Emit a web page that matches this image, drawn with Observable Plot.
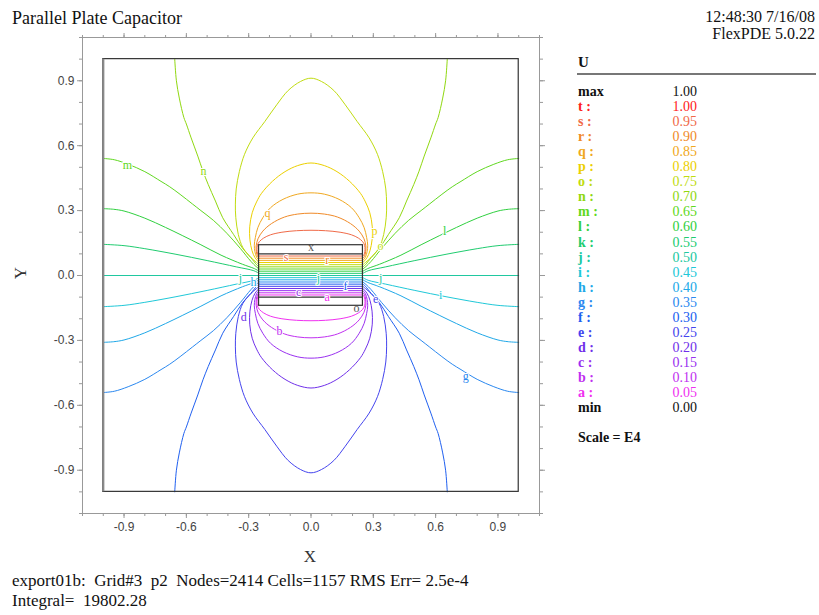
<!DOCTYPE html>
<html><head><meta charset="utf-8">
<script src="https://cdn.jsdelivr.net/npm/d3@7"></script>
<script src="https://cdn.jsdelivr.net/npm/@observablehq/plot@0.6"></script>
<style>body{margin:0;background:#fff}#chart{position:relative;width:819px;height:615px}</style>
</head><body><div id="chart"></div>
<script>
// ---- levels (legend) ----
const levelNames  = ["a","b","c","d","e","f","g","h","i","j","k","l","m","n","o","p","q","r","s","t"];
const levelValues = [0.05,0.10,0.15,0.20,0.25,0.30,0.35,0.40,0.45,0.50,0.55,0.60,0.65,0.70,0.75,0.80,0.85,0.90,0.95,1.00];
const levelColors = ["#f030f0","#c030f0","#9a30f0","#7030ea","#4444ee","#2060f0","#2a88f0","#20a8e8","#20c8d8","#20c8a0",
                     "#20cc70","#30d040","#60d820","#90d810","#c0dc10","#ecd000","#f0a820","#f08a28","#f06a48","#ff2020"];
const legendMax = "1.00", legendMin = "0.00";

// ---- geometry ----
const plateX = [-0.25, 0.25];
const plateOuterY = 0.14, plateInnerY = 0.10;
const innerDomain = [-1, 1];
// straight contour segments between the plates (levels a..s)
const gapY = [-0.09,-0.08,-0.07,-0.06,-0.05,-0.04,-0.03,-0.02,-0.01,0.00,0.01,0.02,0.03,0.04,0.05,0.06,0.07,0.08,0.09];

// ---- contour traces, upper-right quadrant, from the plate edge outward ----
const contourJ = [[-1,0],[1,0]];
const contourK = [[0.25,0.01],[0.275,0.022],[0.36,0.04],[0.5,0.069],[0.65,0.098],[0.8,0.124],[0.9,0.138],[1.0,0.144]];
const contourL = [[0.25,0.02],[0.273,0.032],[0.33,0.052],[0.433,0.094],[0.53,0.142],[0.62,0.185],[0.7,0.222],[0.8,0.265],[0.9,0.298],[0.95,0.306],[1.0,0.309]];
const contourM = [[0.25,0.03],[0.265,0.042],[0.289,0.065],[0.34,0.125],[0.405,0.195],[0.47,0.255],[0.53,0.3],[0.57,0.33],[0.63,0.375],[0.68,0.41],[0.722,0.435],[0.8,0.48],[0.88,0.514],[0.947,0.535],[1.0,0.541]];
const contourN = [[0.25,0.04],[0.262,0.05],[0.29,0.083],[0.33,0.127],[0.373,0.19],[0.425,0.267],[0.46,0.344],[0.495,0.421],[0.52,0.482],[0.545,0.552],[0.577,0.636],[0.6,0.7],[0.612,0.73],[0.634,0.82],[0.648,0.9],[0.656,1.0]];
const contourO = [[0.25,0.05],[0.262,0.06],[0.289,0.083],[0.328,0.129],[0.35,0.19],[0.362,0.267],[0.364,0.33],[0.36,0.4],[0.345,0.48],[0.32,0.56],[0.28,0.636],[0.222,0.712],[0.165,0.789],[0.11,0.855],[0.05,0.897],[0,0.912]];
const contourP = [[0.25,0.06],[0.27,0.083],[0.284,0.115],[0.294,0.165],[0.295,0.225],[0.283,0.29],[0.262,0.34],[0.238,0.38],[0.185,0.436],[0.125,0.48],[0.064,0.508],[0,0.52]];
const contourQ = [[0.25,0.07],[0.262,0.085],[0.27,0.11],[0.273,0.14],[0.268,0.175],[0.256,0.221],[0.232,0.267],[0.195,0.313],[0.135,0.352],[0.064,0.376],[0,0.382]];
const contourR = [[0.25,0.08],[0.258,0.09],[0.263,0.11],[0.264,0.137],[0.255,0.17],[0.232,0.205],[0.19,0.24],[0.128,0.27],[0.064,0.284],[0,0.288]];
const contourS = [[0.25,0.09],[0.257,0.1],[0.26,0.12],[0.258,0.14],[0.248,0.157],[0.228,0.173],[0.195,0.188],[0.14,0.2],[0.07,0.207],[0,0.209]];

// ---- contour labels ----
const labelText = ["m","n","q","p","o","l","s","r","j","j","j","h","f","c","a","e","d","b","i","g"];
const labelX = [-0.884,-0.518,-0.21,0.306,0.335,0.643,-0.12,0.078,-0.34,0.036,0.335,-0.277,0.166,-0.06,0.078,0.311,-0.324,-0.152,0.624,0.745];
const labelY = [0.512,0.48,0.29,0.206,0.137,0.203,0.085,0.072,-0.01,-0.01,-0.01,-0.03,-0.047,-0.077,-0.1,-0.111,-0.191,-0.255,-0.093,-0.467];
const markerText = ["x","o"];
const markerX = [0, 0.219];
const markerY = [0.13, -0.153];

// ---- axes ----
const majorTicks = [-0.9,-0.6,-0.3,0,0.3,0.6,0.9];
const minorTicks = [-1.1,-1.0,-0.9,-0.8,-0.7,-0.6,-0.5,-0.4,-0.3,-0.2,-0.1,0,0.1,0.2,0.3,0.4,0.5,0.6,0.7,0.8,0.9,1.0,1.1];

// ---- build line table (left/right and upper/lower symmetric copies) ----
const upperTraces = [
  {idx:10, pts:contourK, closed:false},{idx:11, pts:contourL, closed:false},
  {idx:12, pts:contourM, closed:false},{idx:13, pts:contourN, closed:false},
  {idx:14, pts:contourO, closed:true},{idx:15, pts:contourP, closed:true},
  {idx:16, pts:contourQ, closed:true},{idx:17, pts:contourR, closed:true},
  {idx:18, pts:contourS, closed:true}
];
const lineRows = [];
const addPath = (id, level, pts) => pts.forEach(([x,y]) => lineRows.push({id, x, y, c: levelColors[level]}));
addPath("j", 9, contourJ);
const mirrorX = p => p.map(([x,y]) => [-x,y]);
const mirrorY = p => p.map(([x,y]) => [x,-y]);
upperTraces.forEach(({idx, pts, closed}) => {
  const low = 18 - idx;
  const left = mirrorX(pts);
  if (closed) {
    const full = [...left, ...pts.slice().reverse().slice(1)];
    addPath("u"+idx, idx, full);
    addPath("d"+idx, low, mirrorY(full));
  } else {
    addPath("ur"+idx, idx, pts); addPath("ul"+idx, idx, left);
    addPath("dr"+idx, low, mirrorY(pts)); addPath("dl"+idx, low, mirrorY(left));
  }
});
const gapRows = gapY.map((y,i) => ({y, x1: plateX[0], x2: plateX[1], c: levelColors[i]}));
const labelRows = labelText.map((t,i) => ({t, x: labelX[i], y: labelY[i], c: levelColors[levelNames.indexOf(t)]}));
const markerRows = markerText.map((t,i) => ({t, x: markerX[i], y: markerY[i]}));
const plateRows = [{x1: plateX[0], x2: plateX[1], y1: -plateOuterY, y2: plateOuterY}];
const frameRows = [{x1: innerDomain[0], x2: innerDomain[1], y1: innerDomain[0], y2: innerDomain[1]}];

const fmt = d => d.toFixed(1);
const blank = () => "";
const tickColor = "#999";

const plot = Plot.plot({
  width: 819, height: 615,
  marginLeft: 82, marginRight: 280, marginTop: 37, marginBottom: 102,
  x: {domain: [-1.1, 1.1]}, y: {domain: [-1.1, 1.1]},
  color: {type: "identity"},
  style: {fontFamily: "'Liberation Sans', Arial, sans-serif", fontSize: "12px", color: "#444", background: "white", overflow: "visible"},
  marks: [
    Plot.frame({stroke: tickColor}),
    Plot.axisX(minorTicks, {anchor: "bottom", tickSize: 3, tickFormat: blank, stroke: tickColor, label: null}),
    Plot.axisX(majorTicks, {anchor: "bottom", tickSize: 5, tickPadding: 4, tickFormat: fmt, stroke: tickColor, fill: "#444", label: null}),
    Plot.axisX(minorTicks, {anchor: "top", tickSize: 3, tickFormat: blank, stroke: tickColor, label: null}),
    Plot.axisX(majorTicks, {anchor: "top", tickSize: 5, tickFormat: blank, stroke: tickColor, label: null}),
    Plot.axisY(minorTicks, {anchor: "left", tickSize: 3, tickFormat: blank, stroke: tickColor, label: null}),
    Plot.axisY(majorTicks, {anchor: "left", tickSize: 5, tickPadding: 3, tickFormat: fmt, stroke: tickColor, fill: "#444", label: null}),
    Plot.axisY(minorTicks, {anchor: "right", tickSize: 3, tickFormat: blank, stroke: tickColor, label: null}),
    Plot.axisY(majorTicks, {anchor: "right", tickSize: 5, tickFormat: blank, stroke: tickColor, label: null}),
    Plot.line(lineRows, {x: "x", y: "y", z: "id", stroke: "c", strokeWidth: 1, curve: "catmull-rom"}),
    Plot.ruleY(gapRows, {y: "y", x1: "x1", x2: "x2", stroke: "c", strokeWidth: 1}),
    Plot.rect(plateRows, {x1: "x1", x2: "x2", y1: "y1", y2: "y2", fill: "none", stroke: "#333", strokeWidth: 1.2}),
    Plot.ruleY([plateInnerY, -plateInnerY], {x1: plateX[0], x2: plateX[1], stroke: "#333", strokeWidth: 1.2}),
    Plot.rect(frameRows, {x1: "x1", x2: "x2", y1: "y1", y2: "y2", fill: "none", stroke: "#333", strokeWidth: 1.2}),
    Plot.ruleX([innerDomain[0]], {y1: innerDomain[0], y2: innerDomain[1], stroke: "#8a8a8a", strokeWidth: 2.2}),
    Plot.text(labelRows, {x: "x", y: "y", text: "t", fill: "c", stroke: "white", strokeWidth: 2, paintOrder: "stroke", fontFamily: "'Liberation Serif', 'Times New Roman', serif", fontSize: 12}),
    Plot.text(markerRows, {x: "x", y: "y", text: "t", fill: "#555", fontFamily: "'Liberation Serif', 'Times New Roman', serif", fontSize: 12})
  ]
});
document.getElementById("chart").appendChild(plot);

// ---- annotations (title, legend, footer) ----
const svg = d3.select(plot);
const serif = "'Liberation Serif', 'Times New Roman', serif";
const addText = (x, y, t, opts = {}) => svg.append("text")
  .attr("x", x).attr("y", y).text(t)
  .attr("font-family", serif).attr("font-size", opts.size || 14)
  .attr("font-weight", opts.weight || "normal")
  .attr("text-anchor", opts.anchor || "start")
  .attr("fill", opts.fill || "#111");

addText(12, 24, "Parallel Plate Capacitor", {size: 18});
addText(815, 22, "12:48:30 7/16/08", {size: 16, anchor: "end"});
addText(815, 39, "FlexPDE 5.0.22", {size: 16, anchor: "end"});
addText(310, 562, "X", {size: 17, anchor: "middle", fill: "#333"});
svg.append("text").text("Y").attr("font-family", serif).attr("font-size", 17).attr("fill", "#333")
  .attr("text-anchor", "middle").attr("transform", "translate(26,273) rotate(-90)");
addText(12, 586, "export01b:  Grid#3  p2  Nodes=2414 Cells=1157 RMS Err= 2.5e-4", {size: 17});
addText(12, 606, "Integral=  19802.28", {size: 17});

// legend
addText(578, 67, "U", {size: 15, weight: "bold"});
svg.append("rect").attr("x", 577).attr("y", 73).attr("width", 239).attr("height", 2).attr("fill", "#777");
const rowY = k => 96 + 15.05 * k;
addText(578, rowY(0), "max", {size: 14, weight: "bold"});
addText(697, rowY(0), legendMax, {size: 14, anchor: "end"});
for (let i = levelNames.length - 1, k = 1; i >= 0; i--, k++) {
  addText(578, rowY(k), levelNames[i] + " :", {size: 14, weight: "bold", fill: levelColors[i]});
  addText(697, rowY(k), levelValues[i].toFixed(2), {size: 14, anchor: "end", fill: levelColors[i]});
}
addText(578, rowY(21), "min", {size: 14, weight: "bold"});
addText(697, rowY(21), legendMin, {size: 14, anchor: "end"});
addText(578, 442, "Scale = E4", {size: 14, weight: "bold"});
</script>
</body></html>
